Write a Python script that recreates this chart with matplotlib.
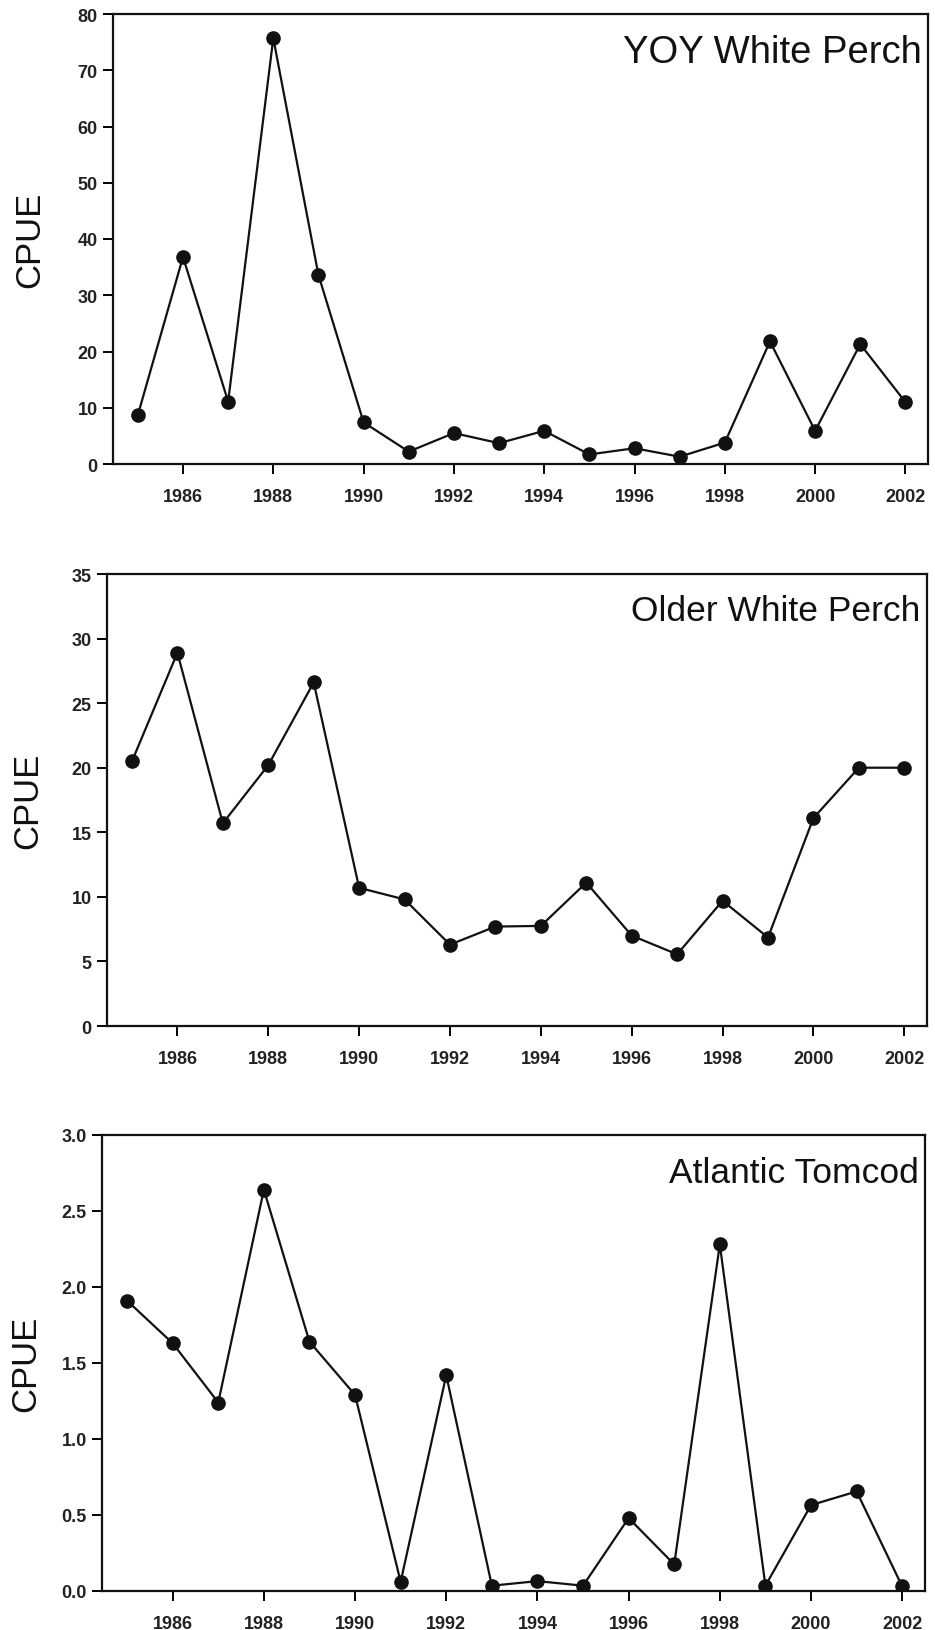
import matplotlib
matplotlib.use("Agg")
import matplotlib.pyplot as plt

plt.rcParams['font.family'] = ['Liberation Sans', 'DejaVu Sans']

years = list(range(1985, 2003))

yoy_white_perch = [8.7, 36.8, 11.1, 75.7, 33.6, 7.4, 2.2, 5.5, 3.7, 5.9,
                   1.7, 2.8, 1.3, 3.8, 21.8, 5.9, 21.3, 11.0]
older_white_perch = [20.5, 28.9, 15.7, 20.2, 26.6, 10.7, 9.8, 6.3, 7.7, 7.75,
                     11.1, 7.0, 5.55, 9.7, 6.85, 16.1, 20.0, 20.0]
atlantic_tomcod = [1.91, 1.63, 1.24, 2.64, 1.64, 1.29, 0.06, 1.42, 0.035, 0.065,
                   0.035, 0.48, 0.175, 2.28, 0.035, 0.565, 0.655, 0.03]

titles = ["YOY White Perch", "Older White Perch", "Atlantic Tomcod"]
series = [yoy_white_perch, older_white_perch, atlantic_tomcod]
yticks = [list(range(0, 81, 10)), list(range(0, 36, 5)),
          [0.0, 0.5, 1.0, 1.5, 2.0, 2.5, 3.0]]
yticklabels = [[str(v) for v in yticks[0]], [str(v) for v in yticks[1]],
               ["%.1f" % v for v in yticks[2]]]
xticks = list(range(1986, 2003, 2))

W, H = 935, 1631
fig = plt.figure(figsize=(W / 100, H / 100), dpi=100)

# axes boxes in pixels: left, right, top, bottom
boxes = [(113, 928, 15, 465), (107, 927, 575, 1027), (102, 925, 1136, 1592)]
title_sizes = [27.5, 25.5, 25.5]
label_x = [30, 28, 26]

for i in range(3):
    l, r, t, b = boxes[i]
    ax = fig.add_axes([l / W, 1 - b / H, (r - l) / W, (b - t) / H])
    ax.plot(years, series[i], color='#111111', lw=1.6, marker='o',
            markersize=9.5, markerfacecolor='#111111', markeredgecolor='#111111')
    ax.set_xlim(1984.45, 2002.5)
    ax.set_ylim(yticks[i][0], yticks[i][-1])
    ax.set_xticks(xticks)
    ax.set_xticklabels([str(x) for x in xticks], fontsize=13, fontweight='bold',
                       color='#222222')
    ax.set_yticks(yticks[i])
    ax.set_yticklabels(yticklabels[i], fontsize=13, fontweight='bold',
                       color='#222222')
    ax.tick_params(direction='out', length=7, width=1.4, pad=4)
    ax.tick_params(axis='x', pad=10)
    for sp in ax.spines.values():
        sp.set_linewidth(1.6)
        sp.set_color('#111111')
    ax.text(0.992, 0.955, titles[i], transform=ax.transAxes, ha='right', va='top',
            fontsize=title_sizes[i], color='#111111')
    fig.text(label_x[i] / W, 1 - ((t + b) / 2) / H, "CPUE", rotation=90,
             ha='center', va='center', fontsize=25, color='#111111')

fig.savefig("out.png", dpi=100)
